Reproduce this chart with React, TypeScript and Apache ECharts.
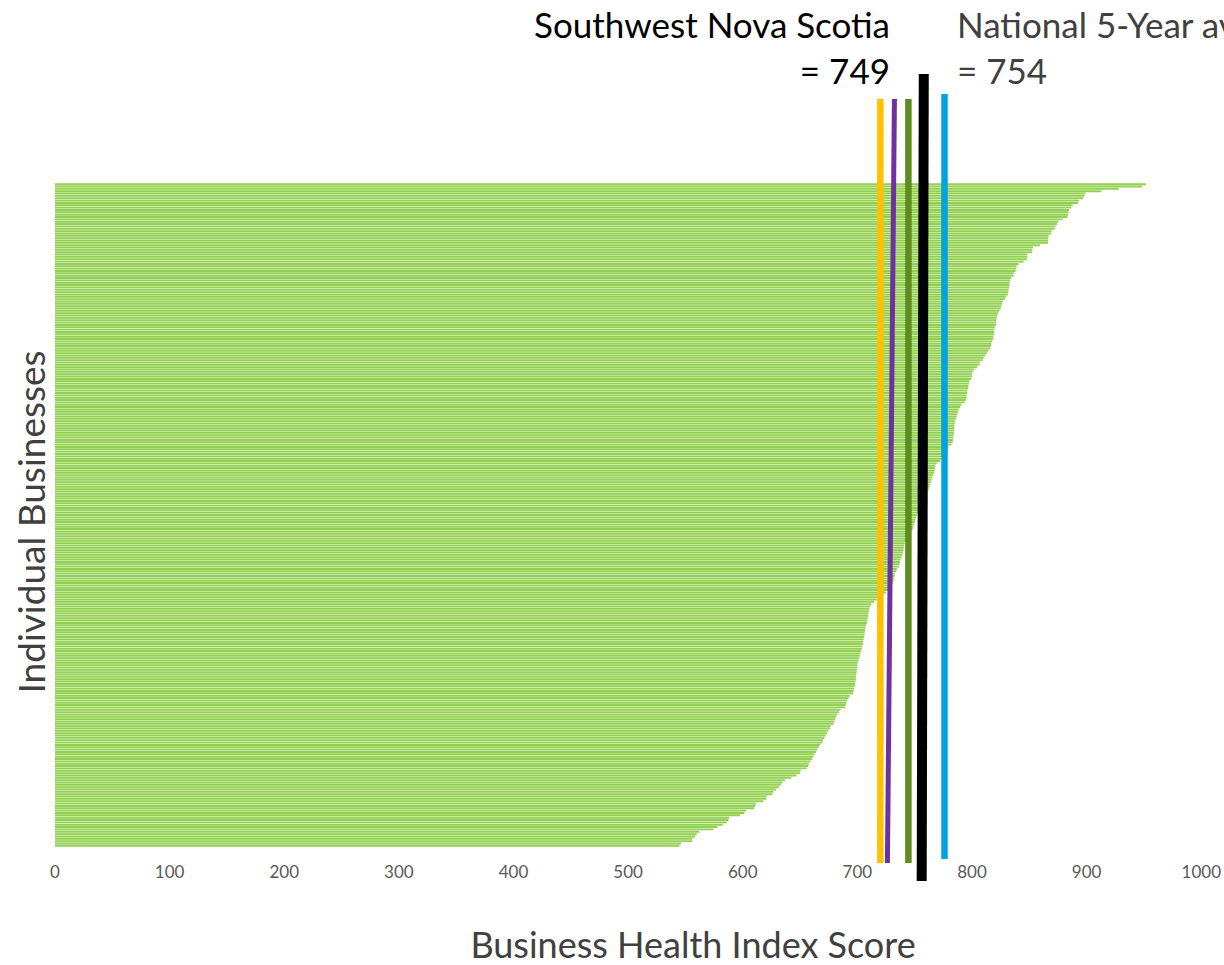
import React, { useEffect, useRef } from "react";
import * as echarts from "echarts";

// Business Health Index score of each business, sorted from highest to lowest
const scores: number[] = [
  951.8, 948.6, 927.9, 912.5, 898.9, 898.0, 897.0, 893.3, 892.4, 887.8,
  886.4, 884.6, 884.3, 883.7, 883.2, 879.1, 875.0, 874.2, 873.0, 872.1,
  869.5, 869.2, 866.9, 866.3, 866.3, 866.3, 859.3, 853.0, 852.7, 852.4,
  848.0, 848.0, 848.0, 845.1, 840.7, 839.0, 838.4, 838.1, 836.4, 836.1,
  834.1, 833.2, 832.9, 832.6, 832.3, 832.0, 831.5, 831.5, 829.4, 828.8,
  826.8, 826.2, 825.6, 825.0, 823.9, 822.7, 822.1, 821.6, 821.3, 821.0,
  821.0, 819.8, 819.5, 819.2, 819.2, 818.7, 818.4, 817.5, 816.9, 816.6,
  815.8, 814.3, 813.2, 811.7, 810.2, 809.4, 807.0, 806.4, 804.4, 801.5,
  800.6, 800.1, 799.8, 799.2, 797.7, 797.2, 796.9, 796.6, 796.0, 795.7,
  795.4, 795.4, 794.5, 793.6, 790.8,
  789.6, 788.4, 787.8, 787.2, 786.7, 785.8, 785.2, 784.9, 784.6, 784.6,
  784.6, 784.3, 784.0, 783.7, 783.4, 783.1, 782.0, 779.0, 778.8, 777.0,
  776.0, 775.0, 773.5, 772.2, 769.3, 768.1, 767.8, 767.5, 766.9, 766.1,
  765.2, 764.6, 764.3, 763.5, 762.9, 762.3, 761.5, 760.5, 759.8, 758.9,
  757.8, 757.0, 756.1, 755.0, 754.0, 753.1, 751.8, 751.2, 750.6, 750.0,
  749.4, 748.9, 748.3, 747.0, 746.0, 745.0, 743.8, 742.5, 741.4, 740.8,
  740.5, 740.2, 739.6, 739.4, 738.5, 737.6, 737.1, 736.8, 736.2, 734.5,
  733.9, 732.7, 732.5, 731.9, 731.6, 730.8, 729.8, 728.6, 727.3, 725.0,
  723.0, 719.3, 716.9, 714.6, 712.3, 711.2, 710.5,
  709.9, 709.6, 709.3, 709.0, 708.7, 708.2, 707.6, 707.0, 706.7, 706.4,
  706.2, 705.9, 705.6, 705.0, 704.7, 704.1, 703.8, 703.3, 702.7, 702.1,
  701.6, 701.0, 700.4, 700.1, 699.8, 699.6, 699.3, 699.0, 699.0, 698.7,
  698.4, 698.1, 697.6, 697.0, 696.7, 696.2, 693.3, 692.4, 691.0, 690.4,
  689.8, 689.3, 685.2, 683.8, 682.3, 681.2, 680.6, 680.0, 679.4, 676.8,
  675.9, 674.5, 673.6, 672.1, 671.3, 670.1, 669.6, 667.3, 666.1, 665.0,
  663.8, 662.6, 661.5, 660.3, 659.2, 657.7, 656.9, 655.7, 650.5, 649.9,
  647.0, 642.4, 636.8, 634.5, 633.1, 631.6, 629.0, 626.7, 626.1, 620.9,
  620.3, 618.0, 611.6, 611.0, 609.9, 602.9, 601.2, 597.7, 588.2, 587.6,
  586.1, 582.6, 578.0, 574.5, 562.3, 560.0, 558.6, 555.9, 555.7, 546.1,
  544.9,
];
const categories: string[] = scores.map((_, i) => `Business ${i + 1}`);

// x axis
const xMin = 0;
const xMax = 1000;
const xInterval = 100;

// Reference lines (score at top end and bottom end of each drawn line)
const markerTopValues = [720.0, 732.3, 744.5, 757.9, 776.0];
const markerBottomValues = [720.0, 726.2, 744.5, 756.1, 776.0];

// Texts
const xAxisTitle = "Business Health Index Score";
const yAxisTitle = "Individual Businesses";
const leftLabelLines = ["Southwest Nova Scotia", "= 749"];
const rightLabelLines = ["National 5-Year average", "= 754"];

// Styles of the reference lines
const markerColors = ["#FFC000", "#7030A0", "#5F8C1F", "#000000", "#00A2E0"];
const markerWidths = [6.5, 5, 6.5, 10, 6.5];
const markerTopY = [99, 99, 99, 74, 94];
const markerBottomY = [863, 863, 863, 881, 859];

const FONT = "Lato, 'Open Sans', sans-serif";

export default function App() {
  const ref = useRef<HTMLDivElement>(null);

  useEffect(() => {
    document.body.style.margin = "0";
    const chart = echarts.init(ref.current!, null, { renderer: "svg" });
    chart.setOption({
      animation: false,
      backgroundColor: "#ffffff",
      grid: { left: 55, right: 22, top: 183, height: 664, containLabel: false },
      xAxis: {
        type: "value",
        min: xMin,
        max: xMax,
        interval: xInterval,
        axisLine: { show: false },
        axisTick: { show: false },
        splitLine: { show: false },
        axisLabel: {
          color: "#595959",
          fontSize: 17,
          fontFamily: FONT,
          margin: 16,
          formatter: (v: number) => String(v),
        },
      },
      yAxis: {
        type: "category",
        data: categories,
        inverse: true,
        show: false,
      },
      series: [
        {
          type: "bar",
          data: scores,
          barCategoryGap: "18%",
          silent: true,
          itemStyle: { color: "#92D050" },
        },
      ],
    });

    const lines = markerTopValues.map((v, i) => {
      const x1 = chart.convertToPixel({ xAxisIndex: 0 }, v) as number;
      const x2 = chart.convertToPixel({ xAxisIndex: 0 }, markerBottomValues[i]) as number;
      return {
        type: "line",
        z: 100,
        silent: true,
        shape: { x1, y1: markerTopY[i], x2, y2: markerBottomY[i] },
        style: { stroke: markerColors[i], lineWidth: markerWidths[i] },
      };
    });

    const texts = [
      {
        type: "text",
        x: 890,
        y: 24,
        style: { text: leftLabelLines[0], fill: "#000000", fontSize: 35, fontFamily: FONT, align: "right", verticalAlign: "middle" },
      },
      {
        type: "text",
        x: 890,
        y: 70,
        style: { text: leftLabelLines[1], fill: "#000000", fontSize: 35, fontFamily: FONT, align: "right", verticalAlign: "middle" },
      },
      {
        type: "text",
        x: 957,
        y: 24,
        style: { text: rightLabelLines[0], fill: "#404040", fontSize: 35, fontFamily: FONT, align: "left", verticalAlign: "middle" },
      },
      {
        type: "text",
        x: 957,
        y: 70,
        style: { text: rightLabelLines[1], fill: "#404040", fontSize: 35, fontFamily: FONT, align: "left", verticalAlign: "middle" },
      },
      {
        type: "text",
        x: 693,
        y: 944,
        style: { text: xAxisTitle, fill: "#404040", fontSize: 36, fontFamily: FONT, align: "center", verticalAlign: "middle" },
      },
      {
        type: "text",
        x: 30,
        y: 522,
        rotation: Math.PI / 2,
        style: { text: yAxisTitle, fill: "#404040", fontSize: 37, fontFamily: FONT, align: "center", verticalAlign: "middle" },
      },
    ];

    chart.setOption({ graphic: [...lines, ...texts] });
    return () => chart.dispose();
  }, []);

  return <div ref={ref} style={{ width: 1224, height: 965 }} />;
}
